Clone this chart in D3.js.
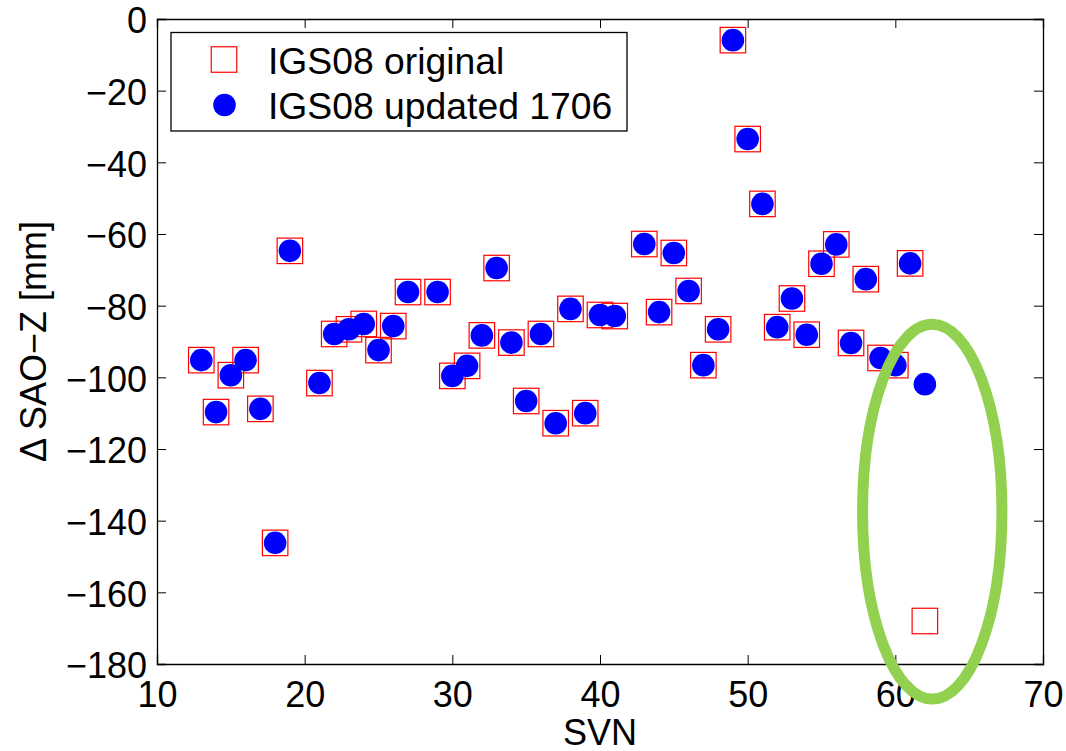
<!DOCTYPE html>
<html>
<head>
<meta charset="utf-8">
<script src="https://cdn.jsdelivr.net/npm/d3@7"></script>
<style>
body{margin:0;background:#fff;}
svg{display:block;}
text{font-family:"Liberation Sans",Arial,Helvetica,sans-serif;fill:#000;}
</style>
</head>
<body>
<div id="chart"></div>
<script>
// SVN numbers of the satellites
var svn = [13,14,15,16,17,18,19,21,22,23,24,25,26,27,29,30,31,32,33,34,35,36,37,38,39,40,41,
           43,44,45,46,47,48,49,50,51,52,53,54,55,56,57,58,59,60,61,62];
// IGS08 original SAO-Z offsets differences [mm]
var original = [-95.2,-109.7,-99.4,-95.2,-108.8,-146.2,-64.7,-101.6,-87.9,-86.6,-85.1,-92.4,-85.7,-76.2,-76.2,-99.6,-96.8,-88.3,-69.5,-90.3,-106.6,-87.9,-112.8,-80.9,-110.0,-82.6,-82.9,
                -62.8,-81.8,-65.3,-75.9,-96.6,-86.6,-5.9,-33.5,-51.6,-86.0,-78.0,-88.1,-68.3,-62.9,-90.4,-72.6,-94.6,-96.6,-68.2,-168.0];
// IGS08 updated 1706
var updated = [-95.2,-109.7,-99.4,-95.2,-108.8,-146.2,-64.7,-101.6,-87.9,-86.6,-85.1,-92.4,-85.7,-76.2,-76.2,-99.6,-96.8,-88.3,-69.5,-90.3,-106.6,-87.9,-112.8,-80.9,-110.0,-82.6,-82.9,
               -62.8,-81.8,-65.3,-75.9,-96.6,-86.6,-5.9,-33.5,-51.6,-86.0,-78.0,-88.1,-68.3,-62.9,-90.4,-72.6,-94.6,-96.6,-68.2,-101.9];
var xTicks = [10,20,30,40,50,60,70];
var yTicks = [0,-20,-40,-60,-80,-100,-120,-140,-160,-180];
var legendLabels = ["IGS08 original","IGS08 updated 1706"];
// highlighted region around SVN 62 (data units)
var highlight = {x:62.5, y:-137.5, rx:4.72, ry:52.3};

var W = 1066, H = 751;
var margin = {top:19, right:23, bottom:87, left:157};

var x = d3.scaleLinear().domain([10,70]).range([margin.left, W - margin.right]);
var y = d3.scaleLinear().domain([-180,0]).range([H - margin.bottom, margin.top]);

var svg = d3.select("#chart").append("svg")
    .attr("width", W)
    .attr("height", H);

var fmt = function(d){ return d < 0 ? "\u2212" + Math.abs(d) : String(d); };
var fs = 36;

// axes: ticks inside, mirrored on top/right
var gx = svg.append("g")
    .attr("transform","translate(0," + y(-180) + ")")
    .call(d3.axisBottom(x).tickValues(xTicks).tickSize(-9).tickPadding(17).tickFormat(fmt));
var gxTop = svg.append("g")
    .attr("transform","translate(0," + y(0) + ")")
    .call(d3.axisTop(x).tickValues(xTicks).tickSize(-9).tickFormat(""));
var gy = svg.append("g")
    .attr("transform","translate(" + x(10) + ",0)")
    .call(d3.axisLeft(y).tickValues(yTicks).tickSize(-9).tickPadding(10).tickFormat(fmt));
var gyRight = svg.append("g")
    .attr("transform","translate(" + x(70) + ",0)")
    .call(d3.axisRight(y).tickValues(yTicks).tickSize(-9).tickFormat(""));

[gx,gxTop,gy,gyRight].forEach(function(g){
  g.select(".domain").attr("stroke","#000").attr("stroke-width",1.3);
  g.selectAll(".tick line").attr("stroke","#000").attr("stroke-width",1);
  g.selectAll(".tick text").style("font-size", fs + "px").style("font-family","Liberation Sans, Arial, sans-serif").attr("fill","#000");
});
gy.selectAll(".tick text").attr("dy","0.38em");

svg.append("text")
    .attr("x", (x(10)+x(70))/2)
    .attr("y", 745)
    .attr("text-anchor","middle")
    .style("font-size", fs + "px")
    .text("SVN");

svg.append("text")
    .attr("transform","translate(46," + (y(-90)) + ") rotate(-90)")
    .attr("text-anchor","middle")
    .style("font-size", fs + "px")
    .text("\u0394 SAO\u2212Z [mm]");

// original: open red squares
var sq = 25.5;
svg.append("g").selectAll("rect")
    .data(svn)
    .join("rect")
    .attr("x", function(d,i){ return x(d) - sq/2; })
    .attr("y", function(d,i){ return y(original[i]) - sq/2; })
    .attr("width", sq).attr("height", sq)
    .attr("fill","none")
    .attr("stroke","#ff0000")
    .attr("stroke-width",1.2);

// updated: filled blue circles
svg.append("g").selectAll("circle")
    .data(svn)
    .join("circle")
    .attr("cx", function(d){ return x(d); })
    .attr("cy", function(d,i){ return y(updated[i]); })
    .attr("r", 11.3)
    .attr("fill","#0000ff");

// legend
var lg = svg.append("g");
lg.append("rect")
    .attr("x",171).attr("y",32.5).attr("width",456).attr("height",98.5)
    .attr("fill","#fff").attr("stroke","#000").attr("stroke-width",1.3);
lg.append("rect")
    .attr("x",224 - sq/2).attr("y",59.5 - sq/2).attr("width",sq).attr("height",sq)
    .attr("fill","none").attr("stroke","#ff0000").attr("stroke-width",1.2);
lg.append("circle")
    .attr("cx",224.5).attr("cy",105).attr("r",11.3).attr("fill","#0000ff");
lg.selectAll("text.lbl")
    .data(legendLabels)
    .join("text")
    .attr("class","lbl")
    .attr("x",268)
    .attr("y",function(d,i){ return 73.5 + i*45; })
    .style("font-size", "37.3px")
    .text(function(d){ return d; });

// green highlight ellipse
svg.append("ellipse")
    .attr("cx", x(highlight.x))
    .attr("cy", y(highlight.y))
    .attr("rx", x(highlight.x + highlight.rx) - x(highlight.x))
    .attr("ry", y(highlight.y) - y(highlight.y + highlight.ry))
    .attr("fill","none")
    .attr("stroke","#92d050")
    .attr("stroke-width",11);
</script>
</body>
</html>
